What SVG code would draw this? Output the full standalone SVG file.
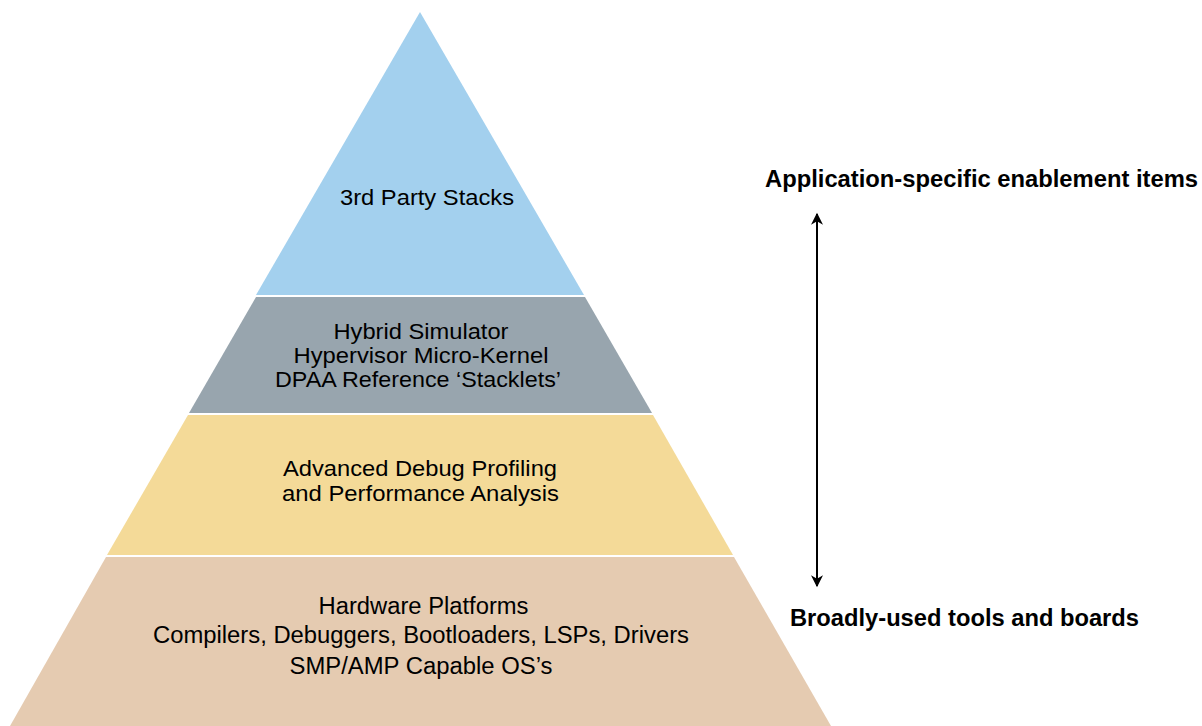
<svg xmlns="http://www.w3.org/2000/svg" width="1202" height="726" viewBox="0 0 1202 726">
<style>
text{font-family:"Liberation Sans",Arial,Helvetica,sans-serif;font-size:22px;fill:#000;text-anchor:middle}
.lg{font-size:23px}
.b{font-weight:bold;font-size:23px}
</style>
<defs>
<marker id="ah" viewBox="0 0 10 10" refX="9" refY="5" markerWidth="18" markerHeight="12" markerUnits="userSpaceOnUse" orient="auto-start-reverse">
<path d="M0,0 L10,5 L0,10 L3,5 Z" fill="#000"/>
</marker>
</defs>
<rect width="1202" height="726" fill="#fff"/>
<g id="layer-top">
<polygon points="420,12 584,295 256,295" fill="#a3d0ee"/>
<text x="427" y="205" textLength="174" lengthAdjust="spacingAndGlyphs">3rd Party Stacks</text>
</g>
<g id="layer-2">
<polygon points="256,297 585,297 652,413 189,413" fill="#98a5ae"/>
<text x="421" y="339" textLength="175" lengthAdjust="spacingAndGlyphs">Hybrid Simulator</text>
<text x="421" y="363" textLength="255" lengthAdjust="spacingAndGlyphs">Hypervisor Micro-Kernel</text>
<text x="418" y="387" textLength="286" lengthAdjust="spacingAndGlyphs">DPAA Reference ‘Stacklets’</text>
</g>
<g id="layer-3">
<polygon points="188,415 653,415 733,555 107,555" fill="#f4da98"/>
<text x="420" y="476" textLength="274" lengthAdjust="spacingAndGlyphs">Advanced Debug Profiling</text>
<text x="420.5" y="501" textLength="277" lengthAdjust="spacingAndGlyphs">and Performance Analysis</text>
</g>
<g id="layer-bottom">
<polygon points="106,557 734,557 831,726 10,726" fill="#e5cbb1"/>
<text class="lg" x="423.5" y="614" textLength="210" lengthAdjust="spacingAndGlyphs">Hardware Platforms</text>
<text class="lg" x="421" y="643" textLength="536" lengthAdjust="spacingAndGlyphs">Compilers, Debuggers, Bootloaders, LSPs, Drivers</text>
<text class="lg" x="421" y="674" textLength="263" lengthAdjust="spacingAndGlyphs">SMP/AMP Capable OS’s</text>
</g>
<g id="connectors">
<line x1="817" y1="214" x2="817" y2="586" stroke="#000" stroke-width="2" marker-start="url(#ah)" marker-end="url(#ah)"/>
</g>
<g id="label-top">
<text class="b" x="981.5" y="187" textLength="433" lengthAdjust="spacingAndGlyphs">Application-specific enablement items</text>
</g>
<g id="label-bottom">
<text class="b" x="964.5" y="626" textLength="349" lengthAdjust="spacingAndGlyphs">Broadly-used tools and boards</text>
</g>
</svg>
